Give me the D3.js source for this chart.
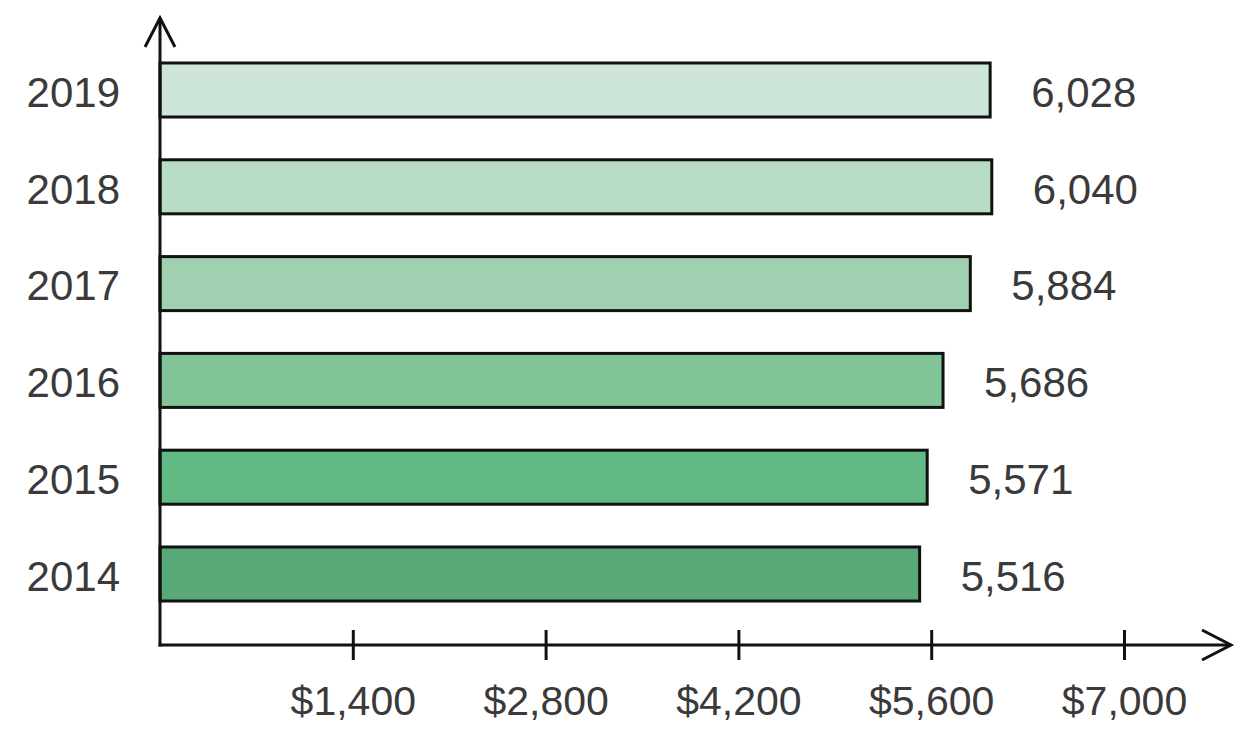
<!DOCTYPE html>
<html>
<head>
<meta charset="utf-8">
<script src="https://cdn.jsdelivr.net/npm/d3@7"></script>
<style>
  html, body { margin: 0; padding: 0; background: #fff; }
  svg { display: block; }
  text { font-family: "Liberation Sans", Arial, Helvetica, sans-serif; fill: #3a3a3a; }
</style>
</head>
<body>
<svg id="chart" width="1250" height="738"></svg>
<script>
const years = ["2019", "2018", "2017", "2016", "2015", "2014"];
const values = [6028, 6040, 5884, 5686, 5571, 5516];
const valueLabels = ["6,028", "6,040", "5,884", "5,686", "5,571", "5,516"];
const colors = ["#cde6d7", "#b8dcc5", "#9fd0b0", "#81c497", "#61b983", "#58a977"];
const tickValues = [1400, 2800, 4200, 5600, 7000];
const tickLabels = ["$1,400", "$2,800", "$4,200", "$5,600", "$7,000"];

const svg = d3.select("#chart");
const x0 = 160, axisY = 645;

const x = d3.scaleLinear().domain([0, 7000]).range([x0, 1124]);
const y = d3.scaleBand().domain(years).range([41.6, 622.4]).paddingInner(0.442).paddingOuter(0.221);

const data = years.map((yr, i) => ({ year: yr, value: values[i], label: valueLabels[i], color: colors[i] }));

// Bars
svg.append("g").selectAll("rect").data(data).join("rect")
  .attr("x", x(0))
  .attr("y", d => y(d.year))
  .attr("width", d => x(d.value) - x(0))
  .attr("height", y.bandwidth())
  .attr("fill", d => d.color)
  .attr("stroke", "#111")
  .attr("stroke-width", 3);

// Value labels
svg.append("g").selectAll("text").data(data).join("text")
  .attr("x", d => x(d.value) + 41)
  .attr("y", d => y(d.year) + y.bandwidth() / 2)
  .attr("dy", "0.4em")
  .attr("font-size", 42)
  .text(d => d.label);

// Year labels
svg.append("g").selectAll("text").data(data).join("text")
  .attr("x", 120)
  .attr("y", d => y(d.year) + y.bandwidth() / 2)
  .attr("dy", "0.4em")
  .attr("text-anchor", "end")
  .attr("font-size", 42)
  .text(d => d.year);

// X axis ticks via d3 axis
const xAxis = d3.axisBottom(x).tickValues(tickValues).tickFormat((d, i) => tickLabels[i]);
const gx = svg.append("g").attr("transform", `translate(0,${axisY})`).call(xAxis);
gx.select(".domain").remove();
gx.selectAll(".tick line").attr("y1", -15).attr("y2", 15).attr("stroke", "#111").attr("stroke-width", 3);
gx.selectAll(".tick text")
  .attr("y", 70).attr("dy", 0)
  .attr("font-size", 41)
  .attr("font-family", "'Liberation Sans', Arial, Helvetica, sans-serif")
  .attr("fill", "#3a3a3a");

// Axis lines with open arrows
const axes = svg.append("g").attr("stroke", "#111").attr("stroke-width", 3).attr("fill", "none");
axes.append("line").attr("x1", x0).attr("y1", 18).attr("x2", x0).attr("y2", axisY + 1.5);
axes.append("line").attr("x1", x0 - 1.5).attr("y1", axisY).attr("x2", 1231).attr("y2", axisY);
axes.append("path").attr("d", `M${x0 - 15},47 L${x0},18 L${x0 + 15},47`).attr("stroke-linejoin", "miter");
axes.append("path").attr("d", `M1202,630 L1231,${axisY} L1202,660`).attr("stroke-linejoin", "miter");
</script>
</body>
</html>
